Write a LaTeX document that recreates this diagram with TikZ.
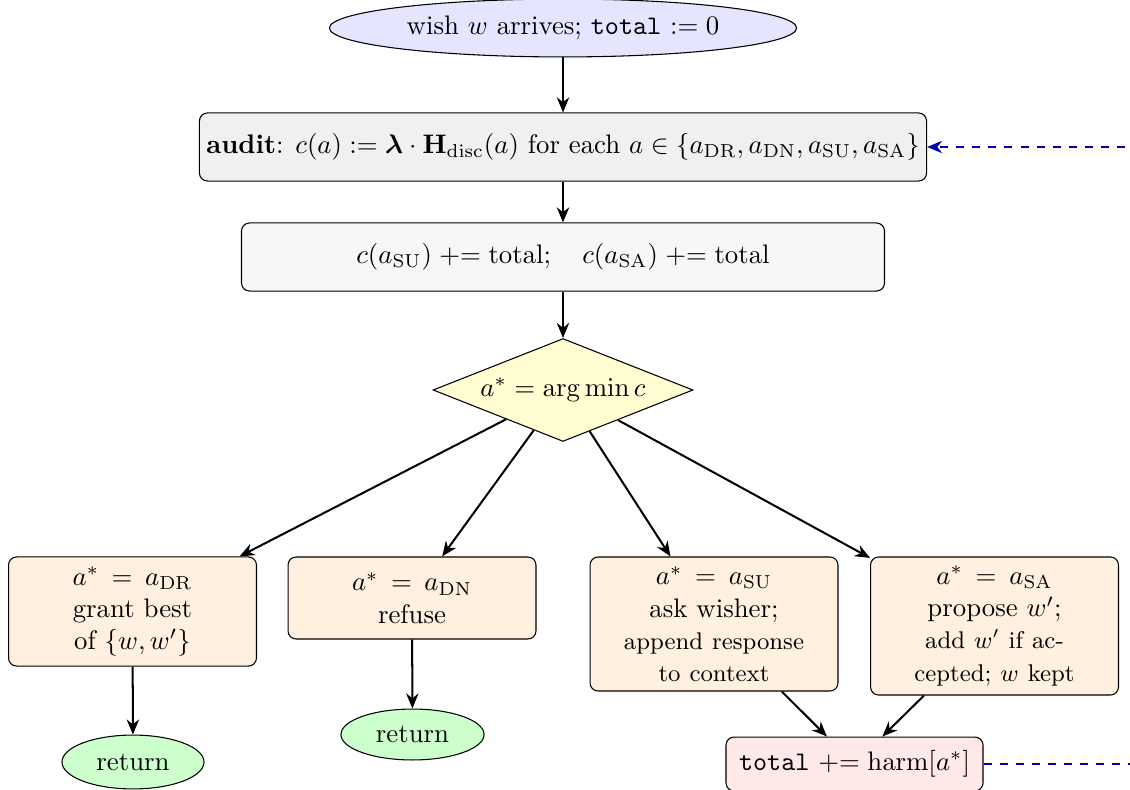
\documentclass[tikz,border=0pt]{standalone}
\usepackage{amsmath}
\usetikzlibrary{shapes.geometric,arrows.meta}
\begin{document}
\begin{tikzpicture}[x=0.3731pt,y=-0.3731pt,
  box/.style={draw, rounded corners=3pt, align=center, inner sep=2pt, line width=0.4pt},
  branch/.style={box, fill=orange!12, text width=72pt, minimum width=92.5pt},
  endnode/.style={draw, ellipse, fill=green!20, inner sep=0pt, line width=0.4pt},
  arr/.style={-{Stealth[length=5.6pt,width=4.6pt,inset=1.8pt]}, line width=0.75pt},
  loopback/.style={arr, dashed, blue!70!black}]
\useasboundingbox (0,0) rectangle (1130,790);
\clip (0,0) rectangle (1130,790);

% main chain
\node[draw, ellipse, fill=blue!10, inner sep=0pt, minimum width=174.3pt, minimum height=21.6pt, line width=0.4pt]
  (start) at (563,28) {wish $w$ arrives; \texttt{total} $:= 0$};
\node[box, fill=gray!12, minimum width=271.3pt, minimum height=25.4pt]
  (audit) at (563,147) {\textbf{audit}: $c(a) := \boldsymbol{\lambda}\cdot\mathbf{H}_{\mathrm{disc}}(a)$ for each $a\in\{a_{\mathrm{DR}}, a_{\mathrm{DN}}, a_{\mathrm{SU}}, a_{\mathrm{SA}}\}$};
\node[box, fill=gray!6, minimum width=239.9pt, minimum height=25.4pt]
  (bias) at (563,257) {$c(a_{\mathrm{SU}}) \mathrel{+}= \text{total};\quad c(a_{\mathrm{SA}}) \mathrel{+}= \text{total}$};
\node[draw, diamond, aspect=2.5, fill=yellow!18, inner sep=0pt, minimum width=97pt, minimum height=38.4pt, line width=0.4pt]
  (pick) at (563,390) {$a^* = \arg\min c$};

% branches
\node[branch, minimum height=40.7pt] (dr) at (132.5,611.5)
  {$a^* = a_{\mathrm{DR}}$\\grant best\\of $\{w,w'\}$};
\node[branch, minimum height=30.6pt] (dn) at (412,598)
  {$a^* = a_{\mathrm{DN}}$\\refuse};
\node[branch, minimum height=50pt] (su) at (714,624)
  {$a^* = a_{\mathrm{SU}}$\\ask wisher;\\{\small append response}\\{\small to context}};
\node[branch, minimum height=51.5pt] (sa) at (994.5,626)
  {$a^* = a_{\mathrm{SA}}$\\propose $w'$;\\{\small add $w'$ if ac-}\\{\small cepted; $w$ kept}};

% terminals
\node[endnode, minimum width=53pt, minimum height=20.1pt] (ret1) at (133,762) {return};
\node[endnode, minimum width=53.4pt, minimum height=19pt] (ret2) at (412.5,734.5) {return};
\node[box, fill=red!9, minimum width=95.9pt, minimum height=20.1pt] (total) at (854.5,764)
  {\texttt{total} $\mathrel{+}= \mathrm{harm}[a^*]$};

% connectors
\draw[arr] (start) -- (audit);
\draw[arr] (audit) -- (bias);
\draw[arr] (bias) -- (pick);
\draw[arr] (pick) -- (dr);
\draw[arr] (pick) -- (dn);
\draw[arr] (pick) -- (su);
\draw[arr] (pick) -- (sa);
\draw[arr] (dr) -- (ret1);
\draw[arr] (dn) -- (ret2);
\draw[arr] (su) -- (total);
\draw[arr] (sa) -- (total);

% feedback loop to the audit step
\coordinate (side) at (1180,450);
\draw[loopback] (total.east) -- (total.east -| side) -- (audit.east -| side) -- (audit.east);
\end{tikzpicture}
\end{document}
